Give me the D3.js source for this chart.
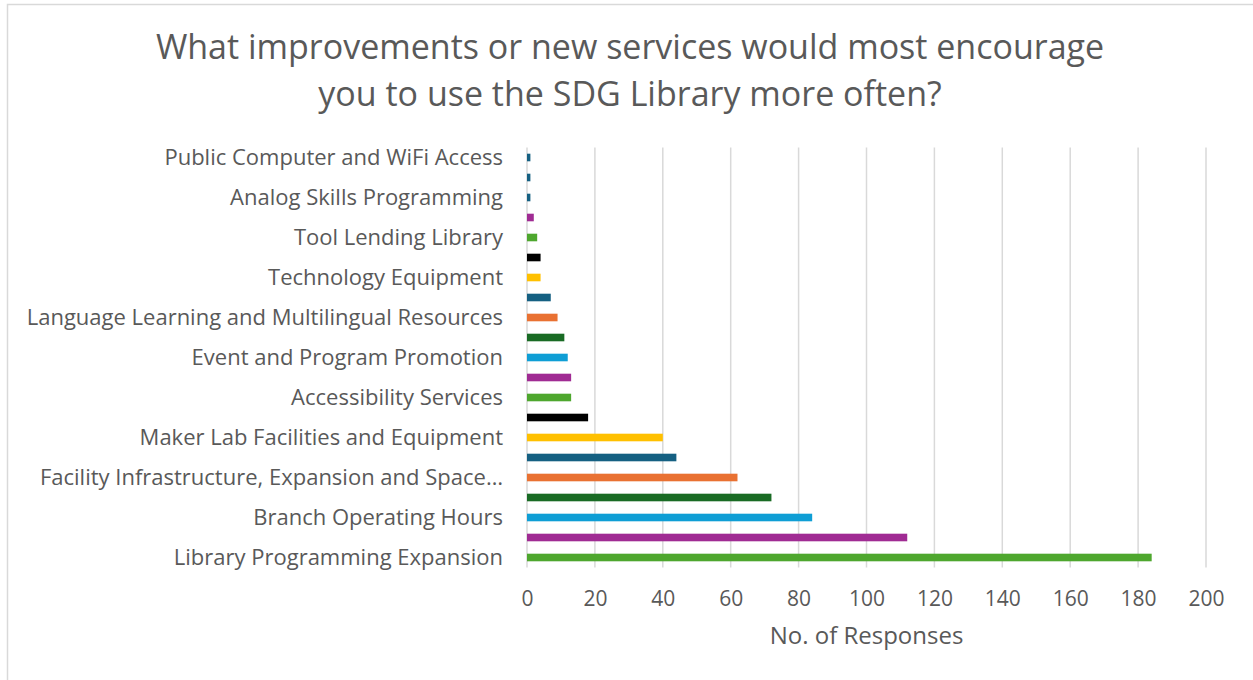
<!DOCTYPE html>
<html>
<head>
<meta charset="utf-8">
<script src="https://cdn.jsdelivr.net/npm/d3@7"></script>
<style>
  html, body { margin: 0; padding: 0; background: #fff; }
  svg { display: block; }
  text { font-family: "Open Sans", "Noto Sans", sans-serif; fill: #595959; }
</style>
</head>
<body>
<script>
// Responses per suggested improvement, listed bottom-to-top as drawn.
// Only every other category name is printed on the axis; the rest are left blank.
const categories = [
  "Library Programming Expansion", null,
  "Branch Operating Hours", null,
  "Facility Infrastructure, Expansion and Space…", null,
  "Maker Lab Facilities and Equipment", null,
  "Accessibility Services", null,
  "Event and Program Promotion", null,
  "Language Learning and Multilingual Resources", null,
  "Technology Equipment", null,
  "Tool Lending Library", null,
  "Analog Skills Programming", null,
  "Public Computer and WiFi Access"
];
const responses = [184, 112, 84, 72, 62, 44, 40, 18, 13, 13, 12, 11, 9, 7, 4, 4, 3, 2, 1, 1, 1];
const barColors = [
  "#4EA72E", "#A02B93", "#0F9ED5", "#196B24", "#E97132", "#156082", "#FFC000", "#000000",
  "#4EA72E", "#A02B93", "#0F9ED5", "#196B24", "#E97132", "#156082", "#FFC000", "#000000",
  "#4EA72E", "#A02B93", "#156082", "#156082", "#156082"
];
const xTicks = [0, 20, 40, 60, 80, 100, 120, 140, 160, 180, 200];
const titleLines = [
  "What improvements or new services would most encourage",
  "you to use the SDG Library more often?"
];
const xAxisTitle = "No. of Responses";

const W = 1253, H = 680;
const plot = { left: 527, right: 1206, top: 147.5, bottom: 567.5 };
const FONT = '"Open Sans", "Noto Sans", sans-serif';

const svg = d3.select("body").append("svg").attr("width", W).attr("height", H);

// chart frame
svg.append("rect")
  .attr("x", 7.5).attr("y", 4.5)
  .attr("width", 1300).attr("height", 720)
  .attr("fill", "#fff").attr("stroke", "#d9d9d9").attr("stroke-width", 1.5);

// title
svg.append("text")
  .attr("text-anchor", "middle")
  .attr("font-size", 34)
  .selectAll("tspan").data(titleLines).join("tspan")
  .attr("x", 630)
  .attr("y", (d, i) => 59 + i * 47)
  .text(d => d);

const x = d3.scaleLinear().domain([0, 200]).range([plot.left, plot.right]);
const idx = d3.range(responses.length);
const y = d3.scaleBand().domain(idx).range([plot.bottom, plot.top]).paddingInner(0.62).paddingOuter(0.31);

// vertical gridlines
svg.append("g")
  .selectAll("line").data(xTicks).join("line")
  .attr("x1", d => x(d)).attr("x2", d => x(d))
  .attr("y1", plot.top).attr("y2", plot.bottom)
  .attr("stroke", "#d9d9d9").attr("stroke-width", 1.5);

// bars
svg.append("g")
  .selectAll("rect").data(idx).join("rect")
  .attr("x", x(0))
  .attr("y", i => y(i))
  .attr("width", i => x(responses[i]) - x(0))
  .attr("height", y.bandwidth())
  .attr("fill", i => barColors[i]);

// x axis labels
const xAxis = d3.axisBottom(x).tickValues(xTicks).tickSize(0).tickPadding(24);
const gx = svg.append("g").attr("transform", `translate(0,${plot.bottom})`).call(xAxis);
gx.select(".domain").remove();
gx.selectAll("text").attr("font-size", 21).attr("fill", "#595959").style("font-family", FONT);

// category labels
const yAxis = d3.axisLeft(y).tickSize(0).tickPadding(24).tickFormat(i => categories[i] || "");
const gy = svg.append("g").attr("transform", `translate(${plot.left},0)`).call(yAxis);
gy.select(".domain").remove();
gy.selectAll("text").attr("font-size", 22).attr("dy", "0.33em")
  .attr("fill", "#595959").style("font-family", FONT);

// axis title
svg.append("text")
  .attr("x", (plot.left + plot.right) / 2)
  .attr("y", 644)
  .attr("text-anchor", "middle")
  .attr("font-size", 24)
  .text(xAxisTitle);
</script>
</body>
</html>
